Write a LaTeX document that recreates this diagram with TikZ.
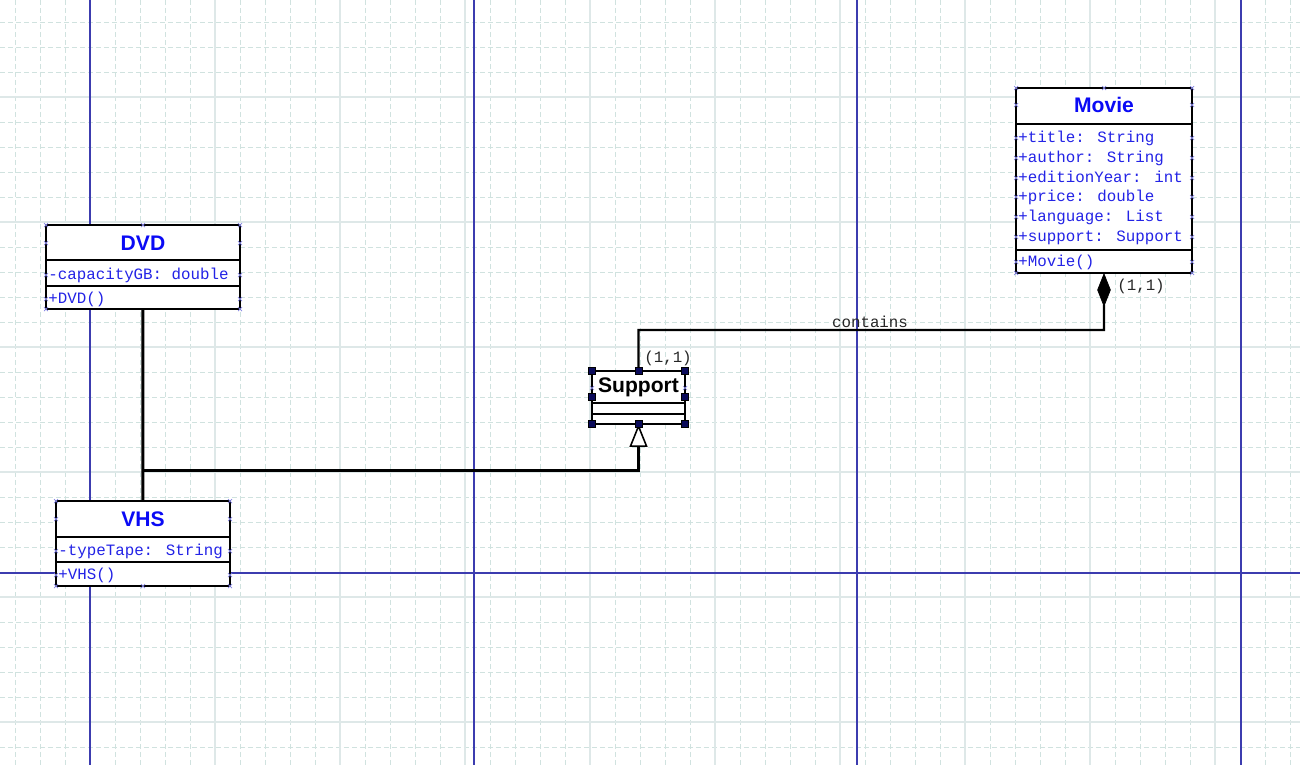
\documentclass[tikz,border=0pt]{standalone}
\usepackage{fontspec}
\setmainfont{Liberation Sans}
\newfontfamily\umlmono{Liberation Mono}
\usetikzlibrary{arrows.meta}

\definecolor{gridminor}{RGB}{208,226,223}
\definecolor{gridmajor}{RGB}{222,232,232}
\definecolor{pageline}{RGB}{60,60,175}
\definecolor{umlblue}{RGB}{10,10,245}
\definecolor{memberblue}{RGB}{35,35,230}
\definecolor{cpblue}{RGB}{130,130,225}
\definecolor{handlenavy}{RGB}{10,10,90}

\tikzset{
    pics/cpmark/.style={code={\draw[cpblue, line width=0.4pt] (-2,-2) -- (2,2) (-2,2) -- (2,-2);}},
    pics/handle/.style={code={\filldraw[fill=handlenavy, draw=black, line width=0.3pt] (-3.5,-3.5) rectangle (3.5,3.5);}}
}

\begin{document}
\begin{tikzpicture}[
    x=0.02cm, y=-0.02cm,
    minorgrid/.style={gridminor, line width=0.55pt, dash pattern=on 0.1cm off 0.06cm},
    majorgrid/.style={gridmajor, line width=0.6pt},
    page/.style={pageline, line width=0.9pt},
    class/.style={draw, fill=white, line width=1.1pt, inner sep=0, outer sep=0, anchor=north west},
    classname/.style={font=\bfseries\fontsize{12}{14}\selectfont, text=umlblue, inner sep=0},
    member/.style={font=\umlmono\fontsize{9}{11}\selectfont, text=memberblue, anchor=west, inner sep=0, text height=6.5pt, text depth=1.5pt},
    divider/.style={line width=1.1pt},
    assoclabel/.style={font=\umlmono\fontsize{9}{11}\selectfont, text=black!85, inner sep=0},
    composition/.style={line width=1.2pt, -{Diamond[length=0.68cm, width=0.27cm, line width=0.4pt]}},
    generalization/.style={line width=1.7pt, -{Triangle[length=0.46cm, width=0.36cm, fill=white, line width=0.9pt]}}
]
\useasboundingbox (0,0) rectangle (1300,765);

% background grid and page borders
\foreach \x in {15,40,...,1290} \draw[minorgrid] (\x,0) -- (\x,765);
\foreach \y in {22,47,...,765} \draw[minorgrid] (0,\y) -- (1300,\y);
\foreach \x in {90,215,...,1215} \draw[majorgrid] (\x,0) -- (\x,765);
\foreach \y in {97,222,...,722} \draw[majorgrid] (0,\y) -- (1300,\y);
\foreach \x in {90,474,857,1241} \draw[page] (\x,0) -- (\x,765);
\draw[page] (0,573) -- (1300,573);

% Movie
\node[class, minimum width=3.52cm, minimum height=3.70cm] (movie) at (1016,88) {};
\draw[divider] (1016,124) -- (1192,124);
\draw[divider] (1016,250) -- (1192,250);
\node[classname] (movieName) at (1104,105) {Movie};
\node[member] (movieTitle) at (1018,138) {+title: String};
\node[member] (movieAuthor) at (1018,158) {+author: String};
\node[member] (movieYear) at (1018,178) {+editionYear: int};
\node[member] (moviePrice) at (1018,197) {+price: double};
\node[member] (movieLang) at (1018,217) {+language: List};
\node[member] (movieSupport) at (1018,237) {+support: Support};
\node[member] (movieCtor) at (1018,262) {+Movie()};

% DVD
\node[class, minimum width=3.88cm, minimum height=1.68cm] (dvd) at (46,225) {};
\draw[divider] (46,260) -- (240,260);
\draw[divider] (46,286) -- (240,286);
\node[classname] (dvdName) at (143,243) {DVD};
\node[member] (dvdCapacity) at (48,275) {-capacityGB: double};
\node[member] (dvdCtor) at (48,299) {+DVD()};

% VHS
\node[class, minimum width=3.48cm, minimum height=1.70cm] (vhs) at (56,501) {};
\draw[divider] (56,537) -- (230,537);
\draw[divider] (56,562) -- (230,562);
\node[classname] (vhsName) at (143,519) {VHS};
\node[member] (vhsTape) at (58,551) {-typeTape: String};
\node[member] (vhsCtor) at (58,575) {+VHS()};

% Support
\node[class, minimum width=1.86cm, minimum height=1.06cm] (support) at (592,371) {};
\draw[divider] (592,403) -- (685,403);
\draw[divider] (592,414) -- (685,414);
\node[classname, text=black] (supportName) at (638.5,387) {Support};

% connection points
\foreach \x/\y in {1016/88,1016/105,1016/138,1016/158,1016/178,1016/197,1016/217,1016/237,1016/262,1016/273,
                   1192/88,1192/105,1192/138,1192/158,1192/178,1192/197,1192/217,1192/237,1192/262,1192/273,1104/88,
                   46/225,46/243,46/275,46/299,46/309,240/225,240/243,240/275,240/299,240/309,143/225,
                   56/501,56/519,56/551,56/575,56/586,230/501,230/519,230/551,230/575,230/586,143/586,
                   592/388,685/388}
    \pic at (\x,\y) {cpmark};

% relations
\draw[line width=1.7pt] (dvd.south) -- (vhs.north);
\coordinate (genbus) at (143,470);
\draw[generalization] (genbus) -| (support.south);

\coordinate (compbend) at (1104,330);
\draw[composition] (support.north) |- (compbend) -- (movie.south);
\node[assoclabel] (containsLbl) at (870,322) {contains};
\node[assoclabel] (movieMult) at (1141,286) {(1,1)};
\node[assoclabel] (supportMult) at (668,358) {(1,1)};

% selection handles
\foreach \x/\y in {592/371,638.5/371,685/371,592/397,685/397,592/424,638.5/424,685/424}
    \pic at (\x,\y) {handle};

\end{tikzpicture}
\end{document}
